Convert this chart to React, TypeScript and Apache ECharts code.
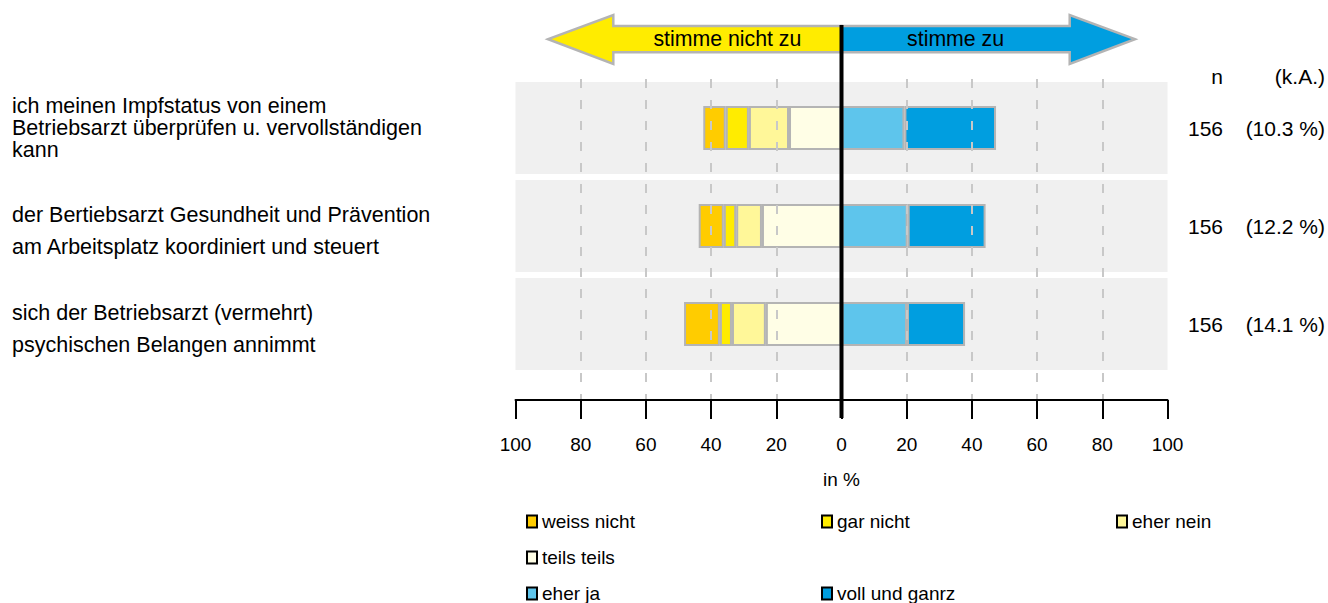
import React, { useEffect, useRef } from 'react';
import * as echarts from 'echarts';

// ---------- data ----------
const categories = [
  'ich meinen Impfstatus von einem\nBetriebsarzt überprüfen u. vervollständigen\nkann',
  'der Bertiebsarzt Gesundheit und Prävention\nam Arbeitsplatz koordiniert und steuert',
  'sich der Betriebsarzt (vermehrt)\npsychischen Belangen annimmt',
];
const weissNicht = [6.9, 7.7, 11.0];
const garNicht = [7.1, 3.8, 3.7];
const eherNein = [12.3, 7.9, 10.4];
const teilsTeils = [16.1, 24.4, 23.2];
const eherJa = [19.3, 20.3, 20.1];
const vollUndGanz = [28.1, 23.9, 17.8];
const nValues = [156, 156, 156];
const kaValues = ['10.3', '12.2', '14.1'];
const legendNames = ['weiss nicht', 'gar nicht', 'eher nein', 'teils teils', 'eher ja', 'voll und ganrz'];
const arrowLabels = ['stimme nicht zu', 'stimme zu'];
const rightHeader = ['n', '(k.A.)'];
const xAxisTitle = 'in %';

// ---------- styles ----------
const FONT = '"Liberation Sans", Arial, Helvetica, sans-serif';
const COLORS: Record<string, string> = {
  'weiss nicht': '#FFCC00',
  'gar nicht': '#FFEC00',
  'eher nein': '#FFF799',
  'teils teils': '#FFFEE6',
  'eher ja': '#5EC5EC',
  'voll und ganrz': '#009EE0',
};
const BORDER = '#b4b4b4';
const BAND = '#f0f0f0';

const legendPos = [
  { left: 526, top: 512 },
  { left: 821, top: 512 },
  { left: 1116, top: 512 },
  { left: 526, top: 548 },
  { left: 526, top: 584 },
  { left: 821, top: 584 },
];

export default function App() {
  const ref = useRef<HTMLDivElement>(null);

  useEffect(() => {
    document.body.style.margin = '0';
    if (!ref.current) return;
    const chart = echarts.init(ref.current, undefined, { renderer: 'svg' });

    const segSeries = [
      { name: 'teils teils', data: teilsTeils, sign: -1 },
      { name: 'eher nein', data: eherNein, sign: -1 },
      { name: 'gar nicht', data: garNicht, sign: -1 },
      { name: 'weiss nicht', data: weissNicht, sign: -1 },
      { name: 'eher ja', data: eherJa, sign: 1 },
      { name: 'voll und ganrz', data: vollUndGanz, sign: 1 },
    ].map((s) => ({
      type: 'bar',
      name: s.name,
      xAxisIndex: 0,
      yAxisIndex: 0,
      stack: 'total',
      barWidth: 44,
      z: 3,
      data: s.data.map((v) => s.sign * v),
      itemStyle: { color: COLORS[s.name], borderColor: BORDER, borderWidth: 2 },
    }));

    const bandSeries = [1, -1].map((sign) => ({
      type: 'bar',
      xAxisIndex: 2,
      yAxisIndex: 2,
      stack: 'band',
      barWidth: 92,
      silent: true,
      z: 1,
      data: categories.map(() => sign * 100),
      itemStyle: { color: BAND },
    }));

    const rich = {
      a: { fontSize: 21, width: 45.5, align: 'right', fontFamily: FONT, color: '#000' },
      b: { fontSize: 21, width: 102, align: 'right', fontFamily: FONT, color: '#000' },
    };

    const option: any = {
      animation: false,
      grid: [
        { left: 515.5, width: 652, top: 79, height: 294 },
        { left: 515.5, width: 652, top: 79, height: 321 },
      ],
      xAxis: [
        { gridIndex: 0, type: 'value', min: -100, max: 100, show: false },
        {
          gridIndex: 1,
          type: 'value',
          min: -100,
          max: 100,
          interval: 20,
          z: 10,
          axisLine: { show: true, onZero: false, lineStyle: { color: '#000', width: 2 } },
          axisTick: { show: true, length: 19, lineStyle: { color: '#000', width: 2 } },
          axisLabel: {
            margin: 35,
            formatter: (v: number) => String(Math.abs(v)),
            fontSize: 19,
            color: '#000',
            fontFamily: FONT,
          },
          splitLine: {
            show: true,
            showMinLine: false,
            showMaxLine: false,
            lineStyle: { color: '#c8c8c8', width: 2, type: [9, 12] },
          },
          name: xAxisTitle,
          nameLocation: 'middle',
          nameGap: 70,
          nameTextStyle: { fontSize: 19, color: '#000', fontFamily: FONT },
        },
        { gridIndex: 0, type: 'value', min: -100, max: 100, show: false },
      ],
      yAxis: [
        {
          gridIndex: 0,
          type: 'category',
          data: categories,
          inverse: true,
          axisLine: { show: false },
          axisTick: { show: false },
          splitLine: { show: false },
          axisLabel: {
            align: 'left',
            margin: 503.5,
            color: '#000',
            fontFamily: FONT,
            fontSize: 21.5,
            formatter: (v: string) => {
              const lines = v.split('\n');
              if (lines.length === 2) return `{h|${lines[0]}}\n{n|${lines[1]}}`;
              return lines.map((l) => `{n|${l}}`).join('\n');
            },
            rich: {
              h: { fontSize: 21.5, lineHeight: 42, fontFamily: FONT, color: '#000' },
              n: { fontSize: 21.5, lineHeight: 22, fontFamily: FONT, color: '#000' },
            },
          },
        },
        {
          gridIndex: 0,
          type: 'category',
          data: categories,
          inverse: true,
          position: 'right',
          axisLine: { show: false },
          axisTick: { show: false },
          splitLine: { show: false },
          axisLabel: {
            align: 'left',
            margin: 10,
            formatter: (_v: string, i: number) => `{a|${nValues[i]}}{b|(${kaValues[i]} %)}`,
            rich,
          },
        },
        {
          gridIndex: 0,
          type: 'category',
          data: categories,
          inverse: true,
          show: false,
        },
        { gridIndex: 1, type: 'value', min: 0, max: 1, show: false },
      ],
      legend: legendNames.map((name, i) => ({
        data: [name],
        left: legendPos[i].left,
        top: legendPos[i].top,
        padding: 0,
        itemWidth: 10,
        itemHeight: 12,
        icon: 'rect',
        selectedMode: false,
        itemStyle: { borderColor: '#000', borderWidth: 2 },
        textStyle: { fontSize: 19, color: '#000', fontFamily: FONT },
      })),
      series: [...bandSeries, ...segSeries],
    };

    chart.setOption(option);

    const px = (v: number) => chart.convertToPixel({ xAxisIndex: 1 }, v) as number;
    const shaftTop = 26;
    const shaftBot = 52.3;
    const headTop = 15;
    const headBot = 64;
    const mid = (shaftTop + shaftBot) / 2;
    const arrowStyle = { stroke: BORDER, lineWidth: 2.5 };

    chart.setOption({
      graphic: [
        {
          type: 'polygon',
          z: 50,
          shape: {
            points: [
              [px(-90), mid],
              [px(-70), headTop],
              [px(-70), shaftTop],
              [px(0), shaftTop],
              [px(0), shaftBot],
              [px(-70), shaftBot],
              [px(-70), headBot],
            ],
          },
          style: { fill: COLORS['gar nicht'], ...arrowStyle },
        },
        {
          type: 'polygon',
          z: 50,
          shape: {
            points: [
              [px(90), mid],
              [px(70), headTop],
              [px(70), shaftTop],
              [px(0), shaftTop],
              [px(0), shaftBot],
              [px(70), shaftBot],
              [px(70), headBot],
            ],
          },
          style: { fill: COLORS['voll und ganrz'], ...arrowStyle },
        },
        {
          type: 'text',
          z: 51,
          x: px(-35),
          y: mid,
          style: {
            text: arrowLabels[0],
            fontSize: 21.3,
            fontFamily: FONT,
            fill: '#000',
            align: 'center',
            verticalAlign: 'middle',
          },
        },
        {
          type: 'text',
          z: 51,
          x: px(35),
          y: mid,
          style: {
            text: arrowLabels[1],
            fontSize: 21.3,
            fontFamily: FONT,
            fill: '#000',
            align: 'center',
            verticalAlign: 'middle',
          },
        },
        {
          type: 'text',
          z: 51,
          x: px(100) + 10,
          y: 76,
          style: {
            text: `{a|${rightHeader[0]}}{b|${rightHeader[1]}}`,
            rich,
            align: 'left',
            verticalAlign: 'middle',
          },
        },
        {
          type: 'line',
          z: 100,
          shape: { x1: px(0), y1: 25, x2: px(0), y2: 418 },
          style: { stroke: '#000', lineWidth: 4 },
        },
      ],
    });

    return () => chart.dispose();
  }, []);

  return <div ref={ref} style={{ width: 1328, height: 603 }} />;
}
